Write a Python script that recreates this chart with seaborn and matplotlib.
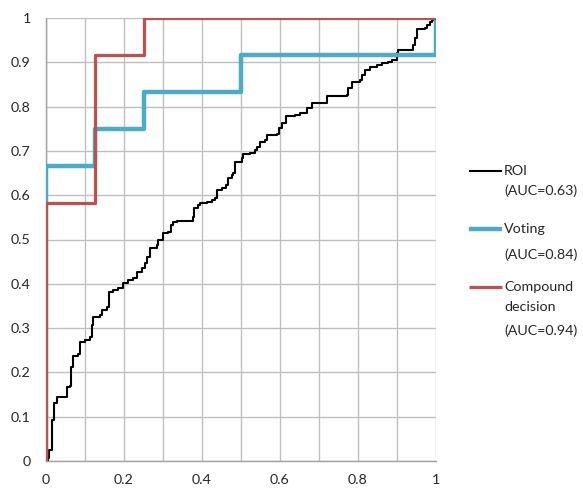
import matplotlib
matplotlib.use("Agg")
import matplotlib.pyplot as plt
from matplotlib.lines import Line2D
from matplotlib.ticker import MultipleLocator, FuncFormatter
import seaborn as sns
import pandas as pd

# ROC curve of the ROI classifier (false positive rate, true positive rate)
roi_fpr = [0.0, 0.003, 0.005, 0.008, 0.014, 0.016, 0.021, 0.027, 0.051, 0.053,
           0.062, 0.063, 0.069, 0.082, 0.087, 0.100, 0.113, 0.117, 0.121, 0.138,
           0.143, 0.156, 0.162, 0.172, 0.185, 0.197, 0.210, 0.223, 0.233, 0.245,
           0.254, 0.258, 0.267, 0.284, 0.288, 0.299, 0.314, 0.320, 0.326, 0.335,
           0.369, 0.376, 0.380, 0.391, 0.395, 0.412, 0.425, 0.433, 0.438, 0.451,
           0.462, 0.467, 0.476, 0.480, 0.485, 0.502, 0.506, 0.523, 0.536, 0.540,
           0.549, 0.562, 0.566, 0.592, 0.598, 0.604, 0.615, 0.638, 0.651, 0.668,
           0.681, 0.718, 0.721, 0.772, 0.775, 0.784, 0.805, 0.810, 0.818, 0.831,
           0.848, 0.861, 0.878, 0.886, 0.899, 0.903, 0.938, 0.942, 0.946, 0.951,
           0.972, 0.976, 0.985, 0.989, 0.997, 1.0]
roi_tpr = [0.0, 0.0, 0.007, 0.025, 0.025, 0.093, 0.131, 0.144, 0.144, 0.167,
           0.169, 0.212, 0.237, 0.242, 0.269, 0.273, 0.280, 0.307, 0.325, 0.330,
           0.341, 0.348, 0.381, 0.386, 0.391, 0.402, 0.409, 0.413, 0.427, 0.436,
           0.447, 0.460, 0.480, 0.488, 0.499, 0.514, 0.518, 0.533, 0.540, 0.542,
           0.542, 0.551, 0.570, 0.578, 0.582, 0.584, 0.589, 0.593, 0.612, 0.616,
           0.623, 0.638, 0.646, 0.649, 0.676, 0.683, 0.693, 0.696, 0.702, 0.709,
           0.721, 0.725, 0.736, 0.738, 0.751, 0.762, 0.779, 0.781, 0.786, 0.796,
           0.808, 0.809, 0.825, 0.826, 0.841, 0.856, 0.860, 0.871, 0.883, 0.890,
           0.894, 0.898, 0.901, 0.905, 0.920, 0.928, 0.928, 0.939, 0.954, 0.975,
           0.977, 0.984, 0.992, 0.995, 0.998, 1.0]

# ROC curve of the voting scheme
voting_fpr = [0.0, 0.0, 0.125, 0.25, 0.5, 1.0, 1.0]
voting_tpr = [0.0, 0.667, 0.75, 0.833, 0.917, 0.917, 1.0]

# ROC curve of the compound decision
compound_fpr = [0.0, 0.0, 0.125, 0.25, 1.0]
compound_tpr = [0.0, 0.583, 0.917, 1.0, 1.0]

series_labels = [["ROI", "(AUC=0.63)"],
                 ["Voting", "(AUC=0.84)"],
                 ["Compound", "decision", "(AUC=0.94)"]]

x_ticks = [0.0, 0.2, 0.4, 0.6, 0.8, 1.0]
y_ticks = [0.0, 0.1, 0.2, 0.3, 0.4, 0.5, 0.6, 0.7, 0.8, 0.9, 1.0]

sns.set_theme(style="white")
plt.rcParams["font.family"] = ["Lato", "DejaVu Sans"]

W, H = 583, 488
fig = plt.figure(figsize=(W / 100, H / 100), dpi=100)
ax = fig.add_axes([46 / W, 1 - 461 / H, 390 / W, 443 / H])

black = "#000000"
blue = "#4BACC6"
red = "#C0504D"
widths = [1.5, 3.2, 2.3]

roi_df = pd.DataFrame({"fpr": roi_fpr, "tpr": roi_tpr})
vot_df = pd.DataFrame({"fpr": voting_fpr, "tpr": voting_tpr})
cmp_df = pd.DataFrame({"fpr": compound_fpr, "tpr": compound_tpr})

sns.lineplot(data=roi_df, x="fpr", y="tpr", sort=False, estimator=None,
             drawstyle="steps-post", color=black, linewidth=widths[0], ax=ax, zorder=3)
sns.lineplot(data=vot_df, x="fpr", y="tpr", sort=False, estimator=None,
             drawstyle="steps-post", color=blue, linewidth=widths[1], ax=ax, zorder=4)
sns.lineplot(data=cmp_df, x="fpr", y="tpr", sort=False, estimator=None,
             drawstyle="steps-post", color=red, linewidth=widths[2], ax=ax, zorder=5)

ax.set_xlim(0, 1)
ax.set_ylim(0, 1)
ax.set_xlabel("")
ax.set_ylabel("")
ax.set_xticks(x_ticks)
ax.set_yticks(y_ticks)
ax.xaxis.set_minor_locator(MultipleLocator(0.1))
fmt = FuncFormatter(lambda v, p: "%g" % round(v, 1))
ax.xaxis.set_major_formatter(fmt)
ax.yaxis.set_major_formatter(fmt)

grid_col = "#BFBFBF"
ax.grid(True, which="both", color=grid_col, linewidth=1.0)
ax.set_axisbelow(True)
for side in ["top", "right"]:
    ax.spines[side].set_visible(False)
for side in ["left", "bottom"]:
    ax.spines[side].set_color("#A0A0A0")
    ax.spines[side].set_linewidth(1.0)
    ax.spines[side].set_zorder(2)

ax.tick_params(axis="both", which="major", direction="out", length=5,
               width=1.0, color="#A0A0A0", labelsize=10.3, labelcolor="#262626")
ax.tick_params(axis="x", which="minor", length=0)
ax.tick_params(axis="x", pad=4)
ax.tick_params(axis="y", pad=6)

# legend beside the plot; each marker sits on the first line of its label
marker_rows = [171, 229, 287]
text_rows = [[171, 191], [229, 255], [287, 307, 331]]
for color, lw, lines, mrow, rows in zip([black, blue, red], widths,
                                         series_labels, marker_rows, text_rows):
    fig.add_artist(Line2D([469 / W, 502 / W], [1 - mrow / H, 1 - mrow / H],
                          color=color, linewidth=lw, solid_capstyle="butt"))
    for txt, ypx in zip(lines, rows):
        fig.text(504 / W, 1 - ypx / H, txt, ha="left", va="center",
                 fontsize=10.3, color="#262626")

fig.savefig("out.png", dpi=100)
